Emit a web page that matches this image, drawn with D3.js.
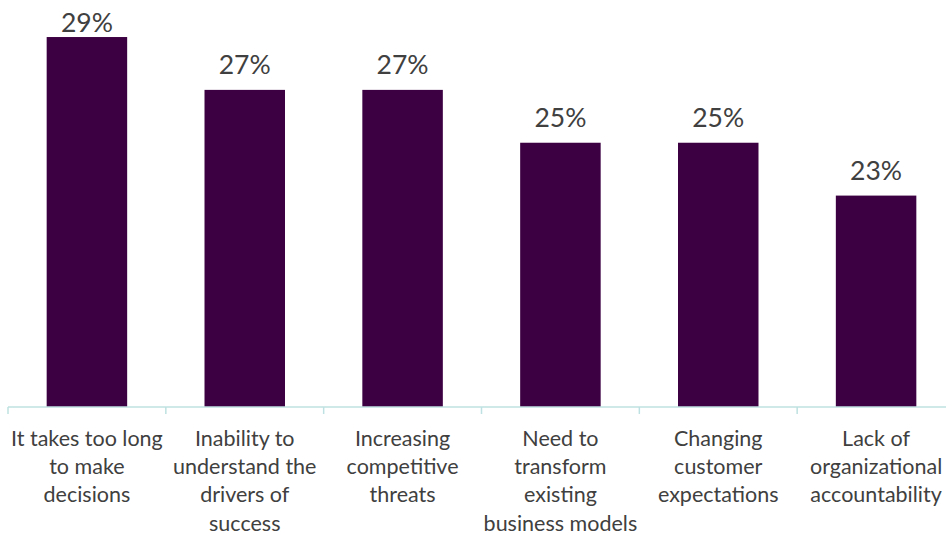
<!DOCTYPE html>
<html><head><meta charset="utf-8">
<script src="https://cdn.jsdelivr.net/npm/d3@7"></script>
<style>body{margin:0;background:#fff}svg{display:block}</style>
</head><body>
<svg id="c" width="946" height="535"></svg>
<script>
const categories = [
  "It takes too long to make decisions",
  "Inability to understand the drivers of success",
  "Increasing competitive threats",
  "Need to transform existing business models",
  "Changing customer expectations",
  "Lack of organizational accountability"
];
const categoryLines = [
  ["It takes too long", "to make", "decisions"],
  ["Inability to", "understand the", "drivers of", "success"],
  ["Increasing", "competitive", "threats"],
  ["Need to", "transform", "existing", "business models"],
  ["Changing", "customer", "expectations"],
  ["Lack of", "organizational", "accountability"]
];
const values = [29, 27, 27, 25, 25, 23];
const valueLabels = ["29%", "27%", "27%", "25%", "25%", "23%"];

const svg = d3.select("#c");
const font = "Lato, 'Source Sans Pro', sans-serif";
const x = d3.scaleBand().domain(categories).range([8, 955]).paddingInner(0.49).paddingOuter(0.245);
const y = d3.scaleLinear().domain([15, 30]).range([407, 10.6]);

svg.selectAll("rect.bar").data(values).join("rect")
  .attr("x", (d, i) => x(categories[i]))
  .attr("width", x.bandwidth())
  .attr("y", d => y(d))
  .attr("height", d => y(15) - y(d))
  .attr("fill", "#3c0042");

svg.selectAll("text.val").data(values).join("text")
  .attr("x", (d, i) => x(categories[i]) + x.bandwidth() / 2)
  .attr("y", d => Math.max(y(d) - 16, 31.5))
  .attr("text-anchor", "middle")
  .attr("font-family", font)
  .attr("font-size", 26.5)
  .attr("fill", "#404040")
  .text((d, i) => valueLabels[i]);

// axis
const axis = d3.axisBottom(x).tickSize(0).tickFormat("");
const g = svg.append("g").attr("transform", "translate(0,407)").call(axis);
g.select(".domain").attr("stroke", "#bfe1e1").attr("stroke-width", 1.5).attr("d", "M8,0H946");
const step = x.step();
const bounds = d3.range(categories.length + 1).map(i => x(categories[0]) - (x.step() - x.bandwidth()) / 2 + i * step);
g.selectAll("line.bt").data(bounds).join("line")
  .attr("x1", d => d).attr("x2", d => d)
  .attr("y1", 0).attr("y2", 7)
  .attr("stroke", "#bfe1e1").attr("stroke-width", 1.5);

categoryLines.forEach((lines, i) => {
  const t = svg.append("text")
    .attr("x", x(categories[i]) + x.bandwidth() / 2)
    .attr("y", 445.5)
    .attr("text-anchor", "middle")
    .attr("font-family", font)
    .attr("font-size", 21.5)
    .attr("fill", "#404040");
  lines.forEach((l, j) => t.append("tspan")
    .attr("x", x(categories[i]) + x.bandwidth() / 2)
    .attr("dy", j === 0 ? 0 : 28.4)
    .text(l));
});
</script>
</body></html>
